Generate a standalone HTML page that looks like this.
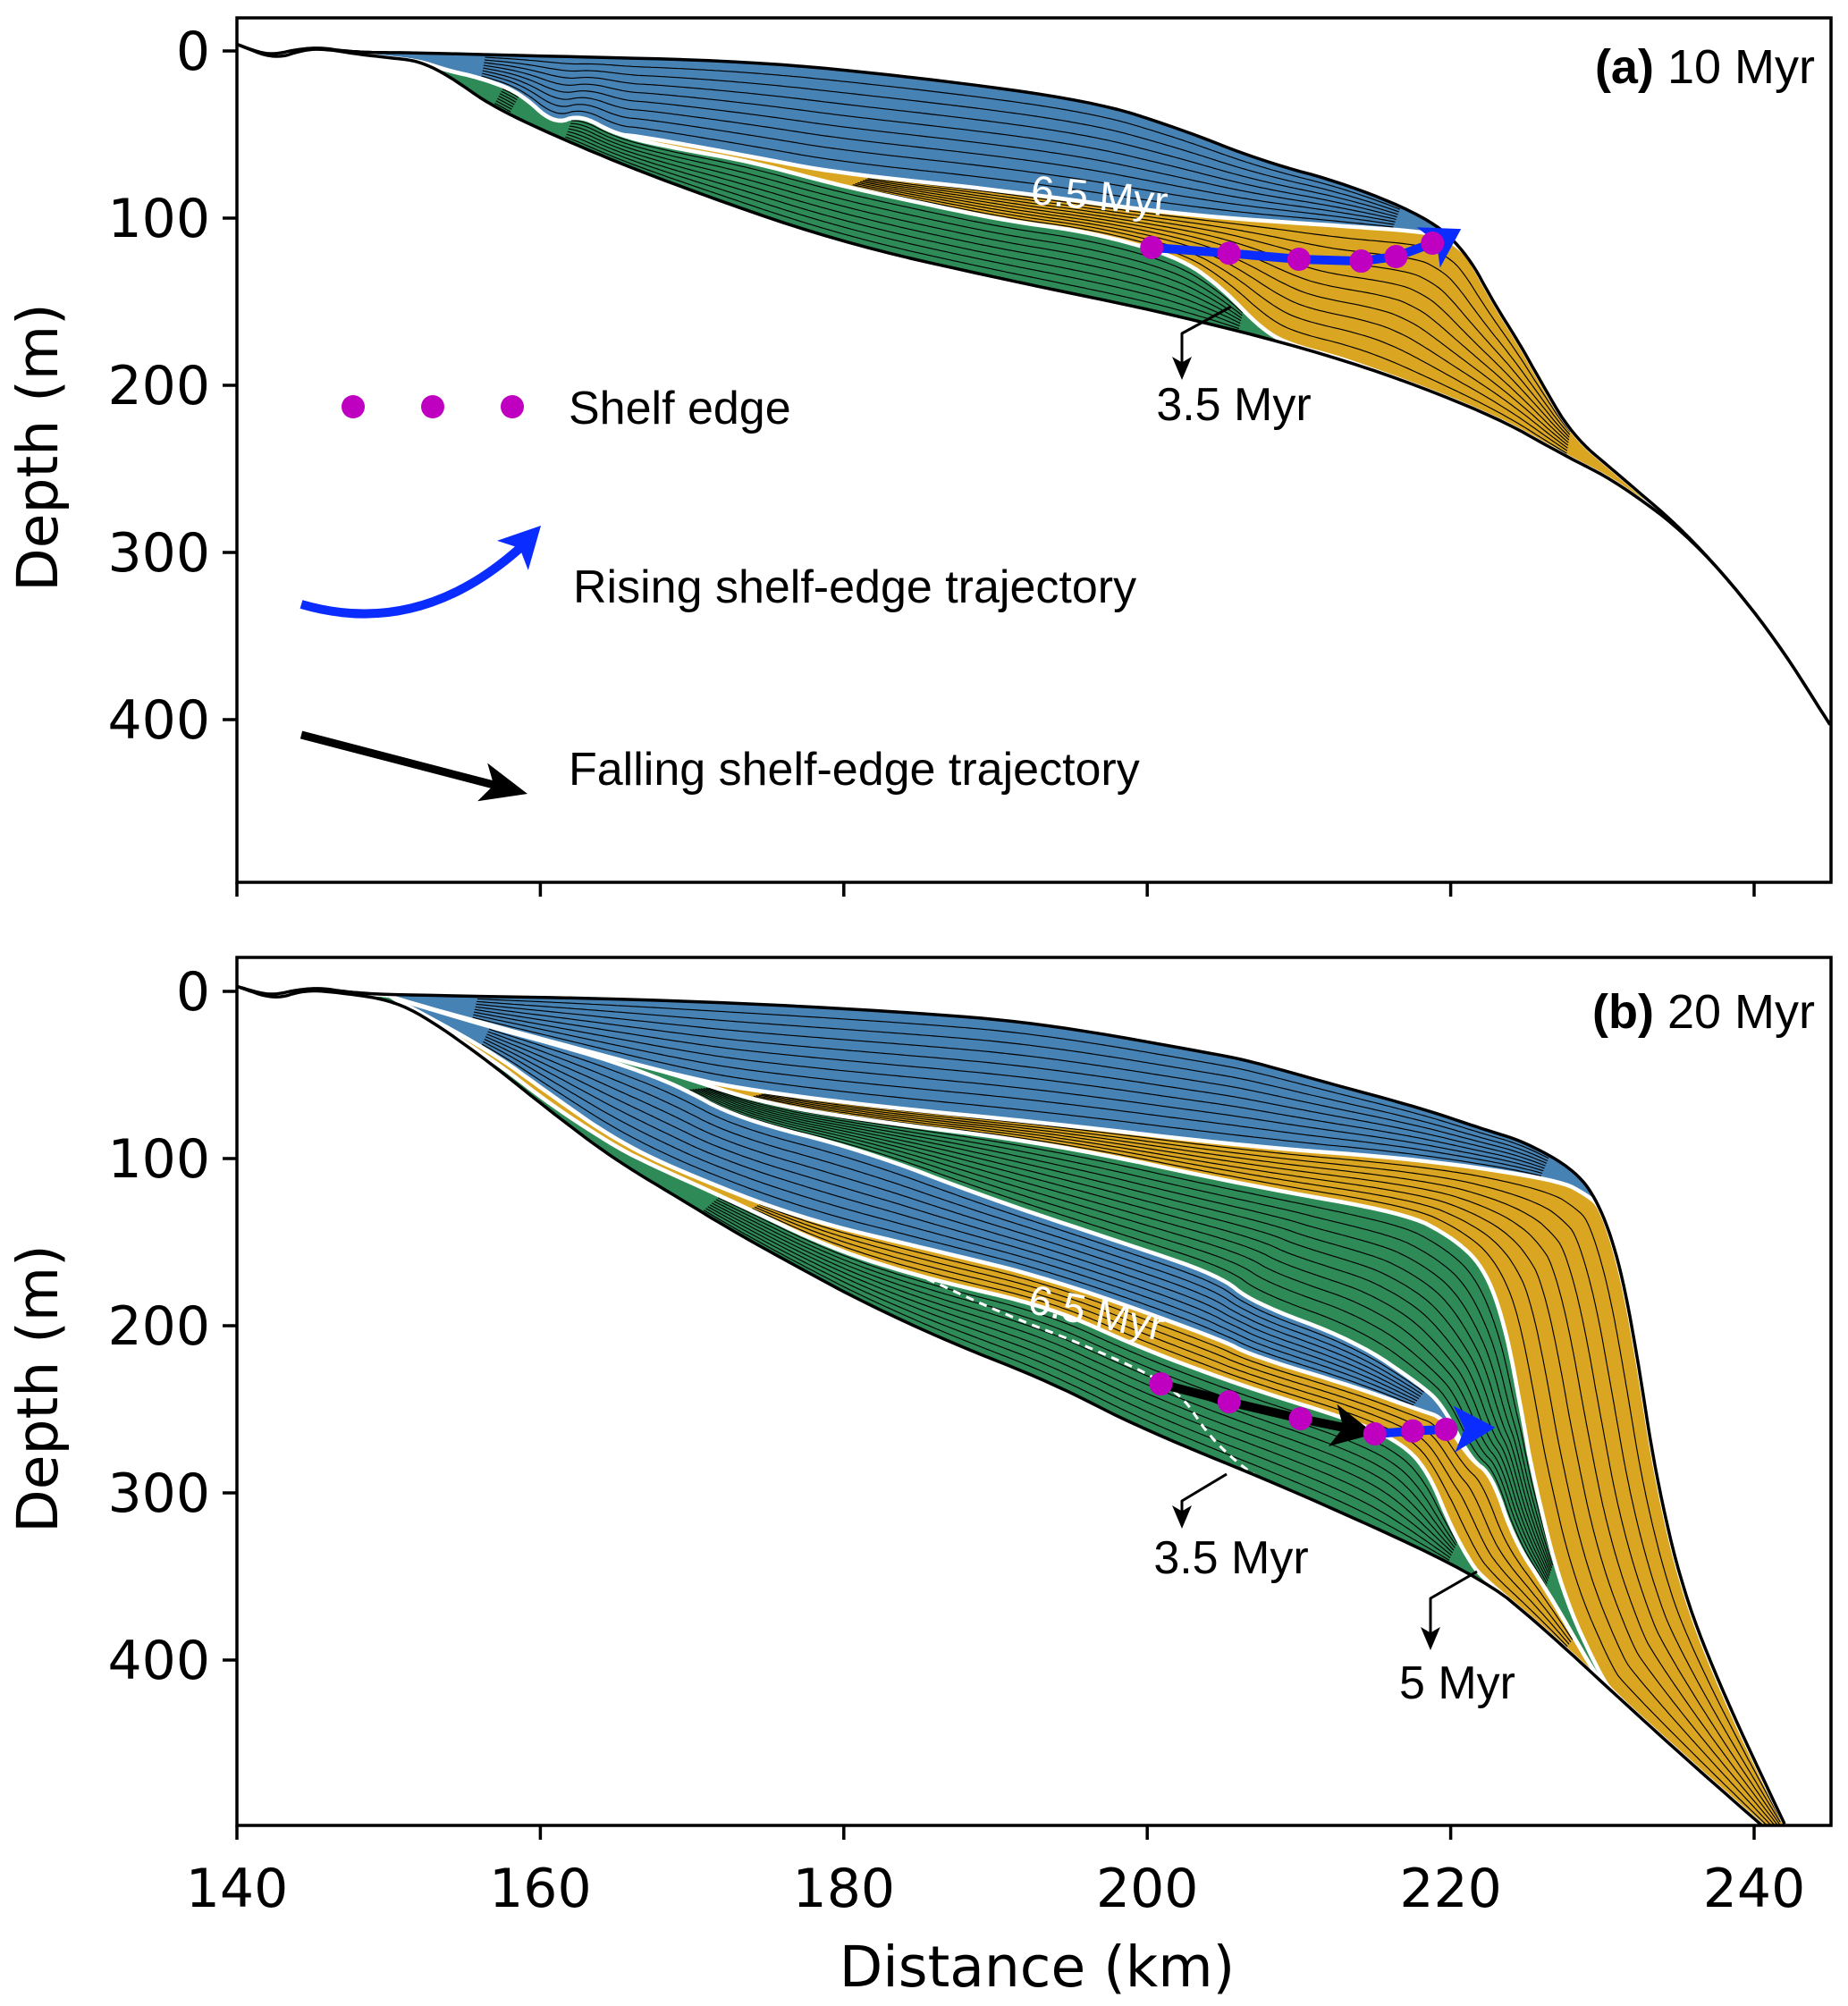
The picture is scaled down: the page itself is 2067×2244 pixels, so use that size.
<!DOCTYPE html>
<html><head><meta charset="utf-8"><style>
html,body{margin:0;padding:0;background:#fff;}
svg{display:block;}
text{font-family:"DejaVu Sans","Liberation Sans",sans-serif;}
.ann{font-family:"Liberation Sans",Arial,sans-serif;}
</style></head><body>
<svg id="fig" width="2067" height="2244" viewBox="0 0 2067 2244" xmlns="http://www.w3.org/2000/svg">
<defs id="defs"></defs>
<g id="root"></g>
</svg>
<script>
// ---------- data (km, depth m) ----------
const xTicks=[140,160,180,200,220,240];
const yTicks=[0,100,200,300,400];
// Panel (a) 10 Myr
const aTopKm=[140,141.5,142.5,144,145.5,147,149,151.3,160,173.8,185.1,196.4,202,207.6,213.3,218.9,221.2,222.8,224.6,225.7,228,231,236,241,245];
const aTopD=[-4,1,2,-1,-2,0,1,1,3,6,16,30,46,66,80,101.6,123,150,176,194,230,253,292,346,403];
const aBaseKm=[140,142.5,144.5,146,148,150,152,154,156.9,162,168.2,179.5,190.7,202,213.3,222.6,227.5,231,236,241,245];
const aBaseD=[-4,5,-1,-1,2,4,6,15,33.7,55,78,114,137,158,185,217,242,258,292,346,403];
const aGreenKm=[140,142.5,144.5,146,148,150,152,154,156,158.6,160.9,162.6,165,168.2,173.8,179.5,185.1,190.7,196.4,202,204.8,207.6,209.5,213.3,222.6,227.5,231,236,241,245];
const aGreenD=[-4,5,-1,-1,2,4,6,12,16,24.6,44,38,50,57,66,80,91,101.6,108.6,123,140.6,167,176,185,217,242,258,292,346,403];
const a65Km=[140,142.5,144.5,146,148,150,152,154,156,158.6,160.9,162.6,165,166.5,173.8,179.5,190.7,202,213.3,218.9,220.2,221.2,222.8,224.6,225.7,228,231,236,241,245];
const a65D=[-4,5,-1,-1,2,4,6,12,16,24.6,44,38,50,51,63,73,83.6,98,105,108.6,115,123,150,176,194,230,253,292,346,403];
const aDotKm=[200.3,205.4,210,214.1,216.4,218.8];
const aDotD=[117.6,121,124.6,125.7,123,115];
// Panel (b) 20 Myr
const bTopKm=[140,141.5,142.5,144,145.5,147,148.2,150,168.9,185.5,193.7,204.8,206.9,212,218.1,222,224.9,228.3,229.9,231.2,232.3,233.5,235.3,238,242];
const bTopD=[-3,1,2,-1,-2,0,1,2,5,13,20,38,42,55,70,82,90,107.5,129,165,218,289,359,421,498];
const bT1Km=[140,142.5,144.5,147,150,150.3,156.6,164.8,169,173,181.3,193.7,206.9,218.1,227.2,229,229.9,231.2,232.3,233.5,235.3,238,242];
const bT1D=[-3,5,-1,1,2,4,20,40,50,58,68,79,93,100.5,113,122,129,166,219,290,360,422,498];
const bT2Km=[140,142.5,144.5,147,150,150.3,156.6,164.8,169,174.3,181.3,193.7,206.9,217,220,222.2,223.6,224.7,225.4,227.3,230,230.9,235,240.5,242];
const bT2D=[-3,5,-1,1,2,4,20,40,50,66,77,91,116.6,132.6,146.5,164.7,200,253,289,359,412,421,455,499,510];
const bT3Km=[140,142.5,144.5,147,150,150.3,156.6,160.7,164.8,169,173,181.3,189.6,197.9,204.8,206.9,213.7,218.1,219.5,221.3,222.7,224.2,226.4,230,230.9,235,240.5,242];
const bT3D=[-3,5,-1,1,2,4,21,31,42,56,76,95,124,149,170,186,209,236,248,280,289,329,359,416,421,455,499,510];
const bT4Km=[140,142.5,144.5,147,150,150.3,156.6,160.7,164.8,169,177.2,185.5,193.7,204.8,206.9,213.7,218.1,219.5,221.3,222.7,224.2,226.4,230,230.9,235,240.5,242];
const bT4D=[-3,5,-1,1,2,4,35,62,88,107,136,154,172,208,218,236.6,251,255,280,289,329,359,416,421,455,499,510];
const bT5Km=[140,142.5,144.5,147,150,150.3,156.6,160.7,164.8,166.9,173,179.2,185.5,193.7,199.7,206.9,213.7,217,218.6,220,221.2,222,226,230.9,235,240.5,242];
const bT5D=[-3,5,-1,1,2,4,39,68,92,102,127,154,172,189,214,238,257,271.6,289,320,340,350,380,421,455,499,510];
const bBaseKm=[140,142.5,144.5,147,150,152.4,156.6,160.7,164.8,169,173,177.4,181.3,187,193.7,199.7,210,222,226,230.9,235,240.5,242];
const bBaseD=[-3,5,-1,1,5,15,42,72,100,123,145,167,186,210,234,262,300,350,380,421,455,499,510];
const bDashKm=[185.5,190.8,196,202,204.1,207,209.5];
const bDashD=[172,194,212,237,267,290,300];
const bDotKm=[200.9,205.4,210.1,215,217.5,219.7];
const bDotD=[234.8,245.5,255.6,264.7,263,262];

// ---------- scales ----------
const NS='http://www.w3.org/2000/svg';
const L=265,R=2048,KX=16.97;
function sx(k){return L+(k-140)*KX;}
const panels={a:{top:20,bot:987,y0:57},b:{top:1071,bot:2042,y0:1109}};
const KY=1.87;
function syf(p){return d=>panels[p].y0+d*KY;}
const root=document.getElementById('root');
const defs=document.getElementById('defs');
function mk(tag,attrs,parent){const e=document.createElementNS(NS,tag);for(const k in attrs)e.setAttribute(k,attrs[k]);(parent||root).appendChild(e);return e;}
function chaikin(p,it){
 for(let k=0;k<it;k++){const o=[p[0]];
  for(let i=0;i<p.length-1;i++){const a=p[i],b=p[i+1];
   o.push([a[0]*0.75+b[0]*0.25,a[1]*0.75+b[1]*0.25]);
   o.push([a[0]*0.25+b[0]*0.75,a[1]*0.25+b[1]*0.75]);}
  o.push(p[p.length-1]);p=o;}
 return p;}
function pts(km,d,sy){return chaikin(km.map((k,i)=>[sx(k),sy(d[i])]),3);}
function pathOf(p){return 'M'+p.map(q=>q[0].toFixed(1)+','+q[1].toFixed(1)).join('L');}
function resample(p,n){
 const c=[0];for(let i=1;i<p.length;i++)c.push(c[i-1]+Math.hypot(p[i][0]-p[i-1][0],p[i][1]-p[i-1][1]));
 const T=c[c.length-1],out=[];let j=1;
 for(let i=0;i<n;i++){const t=T*i/(n-1);while(j<p.length-1&&c[j]<t)j++;
  const s=(c[j]-c[j-1])||1,f=Math.min(1,Math.max(0,(t-c[j-1])/s));
  out.push([p[j-1][0]+(p[j][0]-p[j-1][0])*f,p[j-1][1]+(p[j][1]-p[j-1][1])*f]);}
 return out;}
let cid=0;
function layer(g,up,lo,color,n,name){
 const poly=pathOf(up.concat(lo.slice().reverse()))+'Z';
 const f=mk('path',{d:poly,fill:color,stroke:'none'},g);
 
 
 const id='lc'+(cid++);
 const cp=mk('clipPath',{id:id},defs);mk('path',{d:poly},cp);
 const A=resample(up,500),B=resample(lo,500);
 const gap=A.map((a,j)=>Math.hypot(a[0]-B[j][0],a[1]-B[j][1])/(n+1));
 const lg=mk('g',{'clip-path':'url(#'+id+')'},g);
 
 
 for(let i=1;i<=n;i++){const fr=i/(n+1);
  let d='',pen=false;
  A.forEach((a,j)=>{
   if(gap[j]<3){pen=false;return;}
   const x=a[0]*(1-fr)+B[j][0]*fr,y=a[1]*(1-fr)+B[j][1]*fr;
   d+=(pen?'L':'M')+x.toFixed(1)+','+y.toFixed(1);pen=true;});
  if(!d)continue;
  const ln=mk('path',{d:d,fill:'none',stroke:'#000','stroke-width':1.15},lg);
  
  }
}
function line(g,p,color,w,name,dash){const e=mk('path',{d:pathOf(p),fill:'none',stroke:color,'stroke-width':w,'stroke-linejoin':'round'},g);if(dash)e.setAttribute('stroke-dasharray',dash);
 
 return e;}
function txt(g,x,y,s,size,opts){const e=mk('text',Object.assign({x:x,y:y,'font-size':size,fill:'#000'},opts||{}),g);e.textContent=s;return e;}
function arrowHead(g,x1,y1,x2,y2,color,len,wid,name){
 const a=Math.atan2(y2-y1,x2-x1),c=Math.cos(a),s=Math.sin(a);
 const bx=x2-len*c,by=y2-len*s;
 const p=[[x2,y2],[bx-wid*s,by+wid*c],[x2-len*0.75*c,y2-len*0.75*s],[bx+wid*s,by-wid*c]];
 const e=mk('path',{d:pathOf(p)+'Z',fill:color},g);
 
 }
function dots(g,km,d,sy,name){km.forEach((k,i)=>{const c=mk('circle',{cx:sx(k),cy:sy(d[i]),r:13,fill:'#c000c0'},g);
 
 });}
function rawPts(km,d,sy){return km.map((k,i)=>[sx(k),sy(d[i])]);}
function axes(p,showX,name){
 const P=panels[p],sy=syf(p);
 const g=mk('g',{});
 
 
 yTicks.forEach(v=>{const y=sy(v);mk('line',{x1:L-16,x2:L,y1:y,y2:y,stroke:'#000','stroke-width':3.5},g);
  const t=txt(g,L-30,y+21,String(v),60,{'text-anchor':'end'});
  
  });
 xTicks.forEach(v=>{const x=sx(v);mk('line',{x1:x,x2:x,y1:P.bot,y2:P.bot+16,stroke:'#000','stroke-width':3.5},g);
  if(showX){const t=txt(g,x,2133,String(v),60,{'text-anchor':'middle'});
  
  }});
 const r=mk('rect',{x:L,y:P.top,width:R-L,height:P.bot-P.top,fill:'none',stroke:'#000','stroke-width':3.5},g);
 
 
 const yl=txt(g,0,0,'Depth (m)',63,{'text-anchor':'middle',transform:'translate(64,'+((P.top+P.bot)/2-3)+') rotate(-90)'});
 
 
}
function panelClip(p){const P=panels[p];const cp=mk('clipPath',{id:'pc'+p},defs);mk('rect',{x:L,y:P.top,width:R-L,height:P.bot-P.top},cp);}
const BLUE='#4682b4',GOLD='#daa520',GREEN='#2e8b57';

// ---------- panel a ----------
panelClip('a');
{
 const sy=syf('a');
 const g=mk('g',{'clip-path':'url(#pca)'});
 
 
 const top=pts(aTopKm,aTopD,sy),base=pts(aBaseKm,aBaseD,sy),gr=pts(aGreenKm,aGreenD,sy),s65=pts(a65Km,a65D,sy);
 layer(g,top,s65,BLUE,8,'blue-layer-a');
 layer(g,s65,gr,GOLD,9,'yellow-layer-a');
 layer(g,gr,base,GREEN,7,'green-layer-a');
 line(g,s65,'#fff',4.5,'surface-6-5-myr-a');
 line(g,gr,'#fff',4.5,'surface-3-5-myr-a');
 line(g,top,'#000',3.5,'top-surface-a');
 line(g,base,'#000',3.5,'basement-a');
 const tp=rawPts(aDotKm,aDotD,sy);
 line(g,tp,'#0a2cff',10,'rising-trajectory-a');
 const l=tp[tp.length-1];
 arrowHead(g,l[0]-10,l[1]+8,l[0]+32,l[1]-16,'#0a2cff',42,26,'rising-arrow-head-a');
 dots(g,aDotKm,aDotD,sy,'shelf-edge-dot-a');
 const t=txt(g,0,0,'6.5 Myr',46,{fill:'#fff','class':'ann',transform:'translate(1152,228) rotate(5)'});
 
 
 line(g,[[1377,343],[1322,373],[1322,410]],'#000',3,'callout-3-5-myr-a');
 arrowHead(g,1322,390,1322,425,'#000',26,11,'callout-head-a');
 const t2=txt(g,1380,470,'3.5 Myr',52,{'text-anchor':'middle','class':'ann'});
 
 
 const pt=mk('text',{x:2030,y:93,'font-size':54,'text-anchor':'end','class':'ann'},g);
 
 
 pt.innerHTML='<tspan font-weight="bold">(a)</tspan> 10 Myr';
 const lg=mk('g',{});
 
 
 [395,484,573].forEach(x=>{const c=mk('circle',{cx:x,cy:455,r:13,fill:'#c000c0'},lg);
  
  });
 let e=txt(lg,636,474,'Shelf edge',52,{'class':'ann'});
 
 
 e=mk('path',{d:'M337,676 Q470,715 585,610',fill:'none',stroke:'#0a2cff','stroke-width':10},lg);
 
 
 arrowHead(lg,570,625,605,588,'#0a2cff',46,24,'legend-rising-arrow-head');
 e=txt(lg,641,674,'Rising shelf-edge trajectory',52,{'class':'ann'});
 
 
 e=mk('line',{x1:337,y1:822,x2:560,y2:880,stroke:'#000','stroke-width':9},lg);
 
 
 arrowHead(lg,540,875,590,888,'#000',52,22,'legend-falling-arrow-head');
 e=txt(lg,636,878,'Falling shelf-edge trajectory',52,{'class':'ann'});
 
 
}
axes('a',false,'panel-a');

// ---------- panel b ----------
panelClip('b');
{
 const sy=syf('b');
 const g=mk('g',{'clip-path':'url(#pcb)'});
 
 
 const top=pts(bTopKm,bTopD,sy),t1=pts(bT1Km,bT1D,sy),t2=pts(bT2Km,bT2D,sy),t3=pts(bT3Km,bT3D,sy),t4=pts(bT4Km,bT4D,sy),t5=pts(bT5Km,bT5D,sy),base=pts(bBaseKm,bBaseD,sy);
 layer(g,top,t1,BLUE,8,'upper-blue-layer-b');
 layer(g,t1,t2,GOLD,7,'upper-yellow-layer-b');
 layer(g,t2,t3,GREEN,10,'middle-green-layer-b');
 layer(g,t3,t4,BLUE,7,'lower-blue-layer-b');
 layer(g,t4,t5,GOLD,4,'lower-yellow-layer-b');
 layer(g,t5,base,GREEN,8,'lower-green-layer-b');
 [t1,t2,t3,t4,t5].forEach((s,i)=>line(g,s,'#fff',4.5,'white-surface-b-'+(i+1)));
 line(g,pts(bDashKm,bDashD,sy),'#fff',3,'dashed-3-5-myr-b','9,7');
 line(g,top,'#000',3.5,'top-surface-b');
 line(g,base,'#000',3.5,'basement-b');
 const tp=rawPts(bDotKm,bDotD,sy);
 line(g,tp.slice(0,4),'#000',10,'falling-trajectory-b');
 arrowHead(g,tp[2][0],tp[2][1],tp[3][0],tp[3][1],'#000',48,24,'falling-arrow-head-b');
 const tail=tp.slice(3);
 line(g,tail,'#0a2cff',10,'rising-trajectory-b');
 const l=tail[tail.length-1];
 arrowHead(g,l[0],l[1],l[0]+55,l[1]-2,'#0a2cff',46,26,'rising-arrow-head-b');
 dots(g,bDotKm,bDotD,sy,'shelf-edge-dot-b');
 const t=txt(g,0,0,'6.5 Myr',46,{fill:'#fff','class':'ann',transform:'translate(1148,1468) rotate(12)'});
 
 
 line(g,[[1372,1649],[1322,1679],[1322,1692]],'#000',3,'callout-3-5-myr-b');
 arrowHead(g,1322,1680,1322,1710,'#000',26,11,'callout-head-b1');
 let e=txt(g,1377,1760,'3.5 Myr',52,{'text-anchor':'middle','class':'ann'});
 
 
 line(g,[[1652,1758],[1600,1788],[1600,1830]],'#000',3,'callout-5-myr-b');
 arrowHead(g,1600,1815,1600,1846,'#000',26,11,'callout-head-b2');
 e=txt(g,1630,1900,'5 Myr',52,{'text-anchor':'middle','class':'ann'});
 
 
 const pt=mk('text',{x:2030,y:1150,'font-size':54,'text-anchor':'end','class':'ann'},g);
 
 
 pt.innerHTML='<tspan font-weight="bold">(b)</tspan> 20 Myr';
}
axes('b',true,'panel-b');
const xl=txt(root,1160,2222,'Distance (km)',63,{'text-anchor':'middle'});


</script>
</body></html>
